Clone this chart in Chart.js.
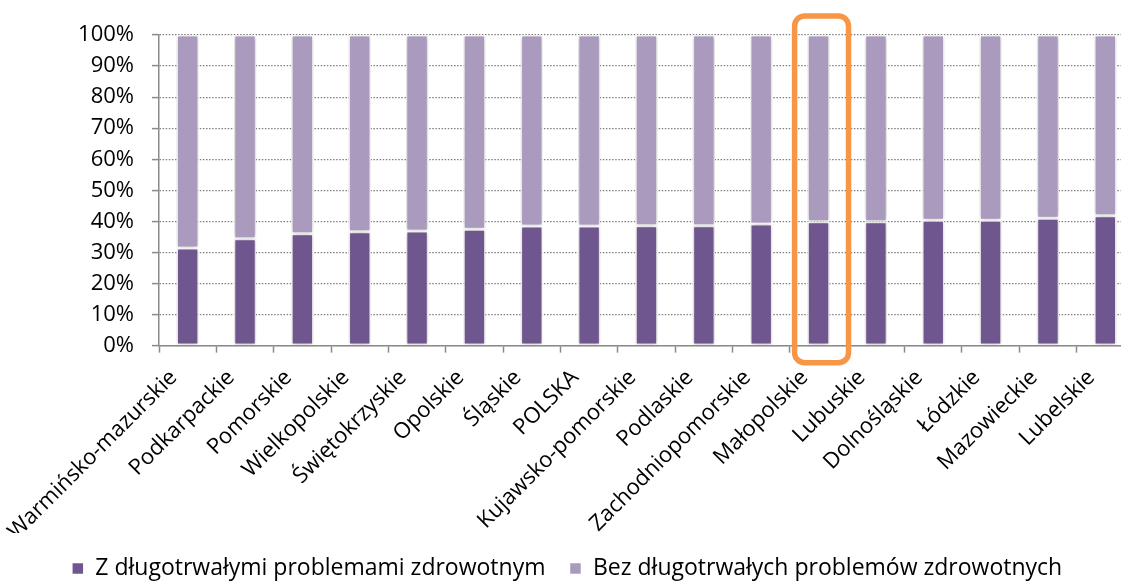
<!DOCTYPE html>
<html>
<head>
<meta charset="utf-8">
<script src="https://cdn.jsdelivr.net/npm/chart.js@4.4.1/dist/chart.umd.min.js"></script>
<style>
  html, body { margin: 0; padding: 0; background: #fff; overflow: hidden; }
  #wrap { position: relative; width: 1140px; height: 581px; }
</style>
</head>
<body>
<div id="wrap"><canvas id="c"></canvas></div>
<script>
const categories = ["Warmińsko-mazurskie","Podkarpackie","Pomorskie","Wielkopolskie","Świętokrzyskie","Opolskie","Śląskie","POLSKA","Kujawsko-pomorskie","Podlaskie","Zachodniopomorskie","Małopolskie","Lubuskie","Dolnośląskie","Łódzkie","Mazowieckie","Lubelskie"];
const withProblems = [31.4, 34.4, 36.0, 36.7, 36.9, 37.5, 38.5, 38.5, 38.6, 38.6, 39.2, 39.9, 39.9, 40.4, 40.4, 41.0, 41.8];
const withoutProblems = withProblems.map(v => +(100 - v).toFixed(1));
const seriesNames = ["Z długotrwałymi problemami zdrowotnym", "Bez długotrwałych problemów zdrowotnych"];
const yTicks = [0, 10, 20, 30, 40, 50, 60, 70, 80, 90, 100];
const highlighted = "Małopolskie";

const FONT = "'Open Sans', sans-serif";

const shadowPlugin = {
  id: 'barShadow',
  beforeDatasetsDraw(chart) {
    const ctx = chart.ctx;
    ctx.save();
    ctx.shadowColor = 'rgba(0,0,0,0.28)';
    ctx.shadowBlur = 5;
  },
  afterDatasetsDraw(chart) {
    chart.ctx.restore();
  }
};

const highlightPlugin = {
  id: 'highlightBox',
  afterDraw(chart) {
    const x = chart.scales.x, y = chart.scales.y;
    const idx = categories.indexOf(highlighted);
    const cx = x.getPixelForValue(idx);
    const catW = (x.getPixelForValue(1) - x.getPixelForValue(0));
    const half = catW * 0.47;
    const top = y.getPixelForValue(100) - 19;
    const bottom = y.getPixelForValue(0) + 17;
    const ctx = chart.ctx;
    ctx.save();
    ctx.strokeStyle = '#F79646';
    ctx.lineWidth = 5.5;
    ctx.beginPath();
    ctx.roundRect(cx + 3 - half, top, half * 2, bottom - top, 10);
    ctx.stroke();
    ctx.restore();
  }
};

new Chart(document.getElementById('c'), {
  type: 'bar',
  data: {
    labels: categories,
    datasets: [
      { label: seriesNames[0], data: withProblems, backgroundColor: '#70568E', borderColor: '#ffffff', borderWidth: 1.5, borderSkipped: false },
      { label: seriesNames[1], data: withoutProblems, backgroundColor: '#AA9ABE', borderColor: '#ffffff', borderWidth: 1.5, borderSkipped: false }
    ]
  },
  options: {
    responsive: true,
    maintainAspectRatio: false,
    animation: false,
    datasets: { bar: { barPercentage: 0.39, categoryPercentage: 1.0 } },
    layout: { padding: { top: 35, right: 6, left: 0, bottom: -9 } },
    scales: {
      x: {
        stacked: true,
        afterFit(scale) { scale.height = scale.height - 24; },
        grid: { display: true, drawOnChartArea: false, drawTicks: true, tickLength: 7, tickColor: '#8a8a8a', tickWidth: 1.5, offset: true },
        border: { display: true, color: '#8a8a8a', width: 1.5 },
        ticks: { autoSkip: false, maxRotation: 45, minRotation: 45, color: '#000', font: { family: FONT, size: 22 }, padding: 12, labelOffset: -14 }
      },
      y: {
        stacked: true,
        min: 0, max: 100,
        afterFit(scale) { scale.width = 159; },
        afterBuildTicks(axis) { axis.ticks = yTicks.map(v => ({ value: v })); },
        grid: { color: '#7f7f7f', lineWidth: 1.2, tickLength: 7, tickColor: '#8a8a8a', tickWidth: 1.5, tickBorderDash: [], drawTicks: true },
        border: { display: true, color: '#8a8a8a', width: 1.5, dash: [1.5, 1.6] },
        ticks: { autoSkip: false, color: '#000', font: { family: FONT, size: 22 }, padding: 18, callback: v => v + '%' }
      }
    },
    plugins: {
      legend: {
        position: 'bottom',
        labels: { color: '#000', font: { family: FONT, size: 23 }, boxWidth: 12, boxHeight: 12, padding: 24 }
      },
      tooltip: { enabled: false }
    }
  },
  plugins: [shadowPlugin, highlightPlugin]
});
</script>
</body>
</html>
